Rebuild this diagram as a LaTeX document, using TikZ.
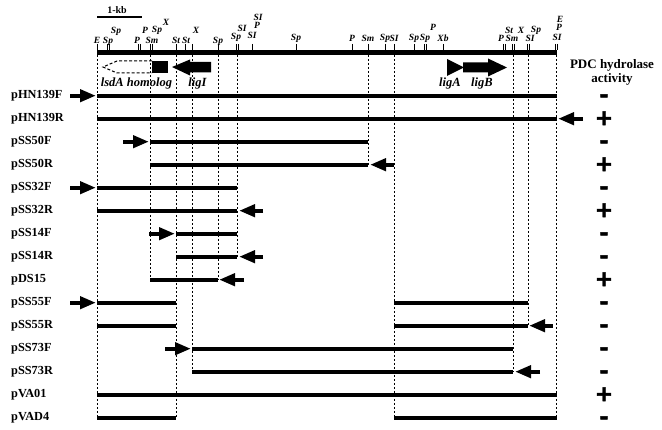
\documentclass[tikz,border=0pt]{standalone}
\usepackage{fontspec}
\setmainfont{Liberation Serif}
\newfontfamily\signfont[FakeBold=2]{DejaVu Sans Bold}
\usetikzlibrary{arrows.meta}

\begin{document}
\begin{tikzpicture}[x=1pt,y=-1pt,
    mapbar/.style={line width=5.3pt},
    clone/.style={line width=4pt},
    guide/.style={line width=0.6pt,dash pattern=on 2pt off 2pt},
    primer/.style={line width=4pt,-{Triangle[length=16pt,width=12pt]}},
    site/.style={font=\fontsize{9.5}{10}\selectfont\bfseries\itshape,inner sep=0pt,anchor=base},
    genelabel/.style={font=\fontsize{12.5}{13}\selectfont\bfseries\itshape,inner sep=0pt,anchor=base},
    plasmid/.style={font=\fontsize{12.3}{13}\selectfont\bfseries,inner sep=0pt,anchor=west},
    signmark/.style={font=\signfont\fontsize{22}{22}\selectfont,inner sep=0pt,text height=13pt,text depth=0pt}]
  \useasboundingbox (0,0) rectangle (662,430);

  % scale and restriction map
  \draw[line width=1.3pt] (97,17) -- (142,17);
  \node[font=\fontsize{10}{10}\selectfont\bfseries,inner sep=0pt,anchor=base] (kb) at (117,14) {1-kb};
  \draw[mapbar] (97,52.5) -- (557,52.5);
  \foreach \x in {97,107,109,138,140,150,152,176,185,192,218,236,238,252,296,352,368,385,394,414,424,426,443,503,505,512,514,527,529,555,557}
    \draw[line width=0.8pt] (\x,44) -- (\x,50);
  \foreach \x/\y/\t [count=\k] in {97/44/E,108/44/Sp,116/34/Sp,137/44/P,145/34/P,152/44/Sm,157/33/Sp,166/26/X,
      176/44/St,186/44/St,196/34/X,218/44/Sp,236/40/Sp,242/32/SI,252/39/SI,257/29/P,258/21/SI,
      296/41/Sp,352/42/P,368/42/Sm,385/41/Sp,394/42/SI,414/41/Sp,425/41/Sp,433/31/P,443/42/Xb,
      501/42/P,509/34/St,512/42/Sm,521/34/X,530/42/SI,536/33/Sp,557/41/SI,559/31/P,560/23/E}
    \node[site] (s\k) at (\x,\y) {\t};

  % genes
  \draw[line width=1pt,dash pattern=on 3pt off 2pt] (152,61) -- (117,61) -- (103,67) -- (117,73) -- (152,73);
  \fill (152,61) rectangle (168,73);
  \fill (172,67) -- (190,59.5) -- (190,62) -- (211,62) -- (211,72.5) -- (190,72.5) -- (190,75.5) -- cycle;
  \fill (447,59) -- (464,67.5) -- (447,76) -- cycle;
  \fill (463,62.5) -- (488,62.5) -- (488,58.5) -- (507,67.5) -- (488,76.5) -- (488,72.5) -- (463,72.5) -- cycle;
  \node[genelabel] (lsdA) at (136.5,87) {lsdA homolog};
  \node[genelabel] (ligI) at (197.5,87) {ligI};
  \node[genelabel] (ligA) at (450,87) {ligA};
  \node[genelabel] (ligB) at (482,87) {ligB};

  % guide lines
  \foreach \x/\yb in {97/417,150/280,176/417,192/372,218/280,237/257,368/165,394/417,513/372,528/326,556/417}
    \draw[guide] (\x,55) -- (\x,\yb);

  % plasmids and activity
  \node[font=\fontsize{13}{14}\selectfont\bfseries,align=center,inner sep=0pt] (head) at (612,72) {PDC hydrolase\\activity};
  \foreach \lab/\sg [count=\i] in {pHN139F/-,pHN139R/+,pSS50F/-,pSS50R/+,pSS32F/-,pSS32R/+,pSS14F/-,pSS14R/-,
      pDS15/+,pSS55F/-,pSS55R/-,pSS73F/-,pSS73R/-,pVA01/+,pVAD4/-} {
    \node[plasmid] (p\i) at (11,{95.7+23*(\i-1)}) {\lab};
    \node[signmark] (a\i) at (604,{95.7+23*(\i-1)}) {\sg};
  }
  \foreach \r/\xa/\xb in {1/97/557,2/97/557,3/150/368,4/150/368,5/97/237,6/97/237,7/176/237,8/176/237,9/150/218,
      10/97/176,10/394/528,11/97/176,11/394/528,12/192/513,13/192/513,14/97/557,15/97/176,15/394/557}
    \draw[clone] (\xa,{95.7+23*(\r-1)}) -- (\xb,{95.7+23*(\r-1)});
  \foreach \r/\xa/\xb in {1/70/96,3/123/149,5/70/96,7/149/175,10/70/96,12/165/191,
      2/583/558,4/394/370,6/263/239,8/263/239,9/244/219,11/553/529,13/540/515}
    \draw[primer] (\xa,{95.7+23*(\r-1)}) -- (\xb,{95.7+23*(\r-1)});
\end{tikzpicture}
\end{document}
